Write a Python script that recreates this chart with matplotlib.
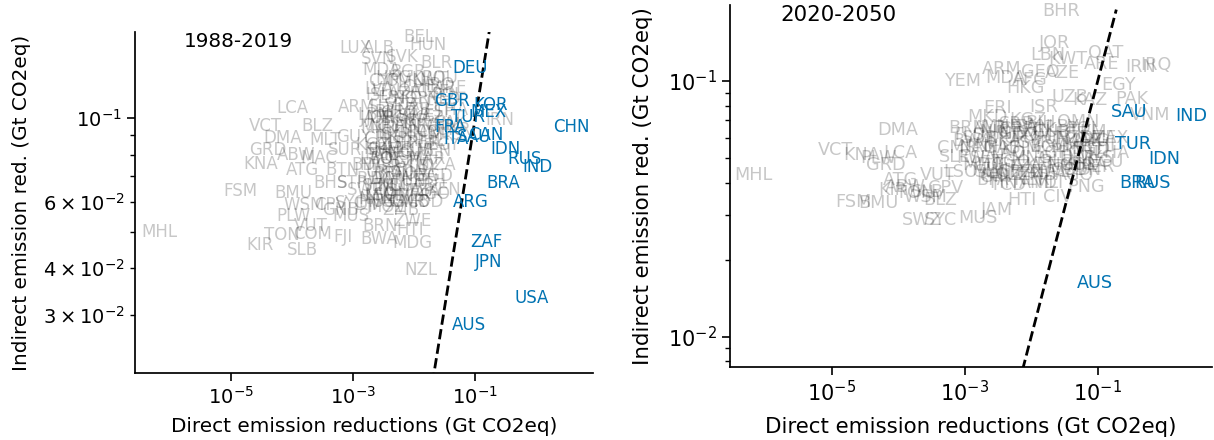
import matplotlib
matplotlib.use("Agg")
import matplotlib.pyplot as plt
from matplotlib.ticker import NullLocator

# ---- 1988-2019: highlighted countries (direct, indirect in Gt CO2eq)
hl_88_names = ["DEU", "GBR", "KOR", "MEX", "TUR", "FRA", "ITA", "SAU", "CAN", "IDN",
               "RUS", "IND", "CHN", "BRA", "ARG", "ZAF", "JPN", "USA", "AUS"]
hl_88_direct = [0.083, 0.042, 0.176, 0.163, 0.077, 0.039, 0.049, 0.096, 0.151, 0.31,
                0.64, 1.04, 3.75, 0.29, 0.086, 0.151, 0.163, 0.83, 0.080]
hl_88_indirect = [0.136, 0.111, 0.108, 0.104, 0.1006, 0.0947, 0.088, 0.089, 0.090, 0.083,
                  0.078, 0.074, 0.0947, 0.0673, 0.0598, 0.0469, 0.0415, 0.0333, 0.0282]

# ---- 1988-2019: other countries
oth_88_names = ["MHL", "KIR", "TON", "SLB", "FSM", "KNA", "BMU", "ATG", "BTN", "PLW",
                "WSM", "VUT", "COM", "FJI", "MUS", "BRN", "ZWE", "HTI", "BWA", "MDG",
                "NZL", "PNG", "GMB", "KEN", "LCA", "VCT", "BLZ", "DMA", "MLT", "GUY",
                "GRD", "ABW", "MAC", "SUR", "ERI", "LUX", "BEL", "HUN", "ALB", "SVK",
                "SVN", "MDA", "BGR", "BLR", "ROU", "LVA", "ARM", "JAM", "IRN", "BHS",
                "STP", "SWZ", "LSO", "CPV", "SYC", "DJI", "GNB", "BDI",
                "LTU", "EST", "SLV", "AZE", "GEO", "CHE", "NOR", "AUT", "CZE", "DNK",
                "SWE", "FIN", "IRL", "NLD", "PRT", "GRC", "ESP", "POL", "ISR", "CHL",
                "PER", "COL", "ECU", "BOL", "PRY", "URY", "VEN", "CRI", "PAN", "DOM",
                "GTM", "HND", "NIC", "CUB", "TTO", "MAR", "DZA", "TUN", "EGY", "NGA",
                "GHA", "CIV", "SEN", "CMR", "ETH", "TZA", "UGA", "AGO", "MOZ", "ZMB",
                "NAM", "BGD", "PAK", "LKA", "NPL", "THA", "VNM", "MYS", "PHL", "KAZ",
                "UKR", "UZB", "IRQ", "KWT", "QAT", "ARE", "OMN", "CYP", "ISL", "SGP",
                "HKG", "JOR", "LBN", "SRB", "BIH", "MKD", "KGZ", "TJK", "MNG", "KHM",
                "LAO", "MMR", "SYR", "YEM", "LBY", "TKM", "SDN", "COD", "NER", "MLI",
                "BFA", "MWI", "RWA", "GAB"]
oth_88_direct = [6.6e-7, 3.0e-5, 6.9e-5, 1.5e-4, 1.4e-5, 3.1e-5, 1.04e-4, 1.5e-4, 6.6e-4, 1.04e-4,
                 1.6e-4, 2.0e-4, 2.2e-4, 6.9e-4, 9.3e-4, 2.8e-3, 9.3e-3, 8.6e-3, 2.7e-3, 9.3e-3,
                 0.013, 2.4e-3, 8.6e-3, 0.031, 1.0e-4, 3.7e-5, 2.6e-4, 7.1e-5, 3.5e-4, 1.04e-3,
                 4.0e-5, 1.16e-4, 2.7e-4, 7.4e-4, 2.8e-3, 1.08e-3, 0.0121, 0.017, 2.6e-3, 6.4e-3,
                 2.6e-3, 2.9e-3, 8.0e-3, 0.023, 0.0267, 2.6e-3, 1.12e-3, 2.3e-3, 0.257, 4.2e-4,
                 9.6e-4, 1.6e-3, 2.8e-3, 4.2e-4, 8.9e-4, 1.6e-3, 6.1e-4, 1.6e-3,
                 0.0035, 0.0045, 0.0030, 0.007, 0.0055, 0.012, 0.009, 0.015, 0.02, 0.006,
                 0.011, 0.008, 0.004, 0.03, 0.009, 0.013, 0.025, 0.035, 0.006, 0.0045,
                 0.014, 0.02, 0.007, 0.0035, 0.005, 0.003, 0.022, 0.0025, 0.0028, 0.004,
                 0.009, 0.0033, 0.0022, 0.011, 0.006, 0.016, 0.025, 0.008, 0.03, 0.012,
                 0.0065, 0.005, 0.0026, 0.0075, 0.018, 0.014, 0.004, 0.02, 0.0035, 0.006,
                 0.0025, 0.022, 0.04, 0.005, 0.0032, 0.04, 0.028, 0.033, 0.018, 0.016,
                 0.045, 0.01, 0.027, 0.018, 0.01, 0.04, 0.007, 0.0032, 0.0025, 0.009,
                 0.0045, 0.0028, 0.0022, 0.006, 0.0038, 0.0027, 0.0021, 0.0035, 0.0045, 0.003,
                 0.0024, 0.012, 0.0052, 0.0065, 0.014, 0.0095, 0.0085, 0.015, 0.01, 0.0045,
                 0.0038, 0.003, 0.0023, 0.011]
oth_88_indirect = [0.0499, 0.046, 0.049, 0.0447, 0.064, 0.0755, 0.0633, 0.0728, 0.0728, 0.055,
                   0.0587, 0.0517, 0.0492, 0.0483, 0.055, 0.0518, 0.0533, 0.0505, 0.0478, 0.0466,
                   0.0395, 0.0598, 0.0598, 0.0644, 0.106, 0.0952, 0.0952, 0.0885, 0.0874, 0.089,
                   0.0822, 0.0798, 0.0783, 0.0822, 0.0822, 0.153, 0.164, 0.156, 0.153, 0.145,
                   0.143, 0.134, 0.132, 0.140, 0.128, 0.119, 0.107, 0.100, 0.099, 0.0673,
                   0.0673, 0.0644, 0.0625, 0.0587, 0.0596, 0.0587, 0.057, 0.075,
                   0.118, 0.113, 0.107, 0.116, 0.103, 0.121, 0.112, 0.108, 0.117, 0.097,
                   0.101, 0.094, 0.092, 0.112, 0.088, 0.095, 0.104, 0.115, 0.086, 0.085,
                   0.086, 0.092, 0.080, 0.078, 0.074, 0.072, 0.082, 0.088, 0.080, 0.069,
                   0.076, 0.066, 0.075, 0.082, 0.071, 0.078, 0.075, 0.068, 0.085, 0.070,
                   0.064, 0.063, 0.066, 0.060, 0.068, 0.064, 0.060, 0.063, 0.058, 0.057,
                   0.061, 0.070, 0.097, 0.100, 0.095, 0.105, 0.096, 0.090, 0.087, 0.100,
                   0.093, 0.105, 0.122, 0.127, 0.118, 0.120, 0.125, 0.125, 0.115, 0.098,
                   0.128, 0.100, 0.102, 0.108, 0.104, 0.094, 0.085, 0.089, 0.081, 0.083,
                   0.078, 0.091, 0.090, 0.078, 0.074, 0.083, 0.072, 0.060, 0.062, 0.066,
                   0.071, 0.062, 0.069, 0.066]

# ---- 2020-2050: highlighted countries
hl_50_names = ["SAU", "IND", "TUR", "IDN", "BRA", "RUS", "AUS"]
hl_50_direct = [0.295, 2.52, 0.339, 0.99, 0.389, 0.676, 0.091]
hl_50_indirect = [0.0756, 0.0729, 0.0567, 0.0496, 0.0399, 0.0399, 0.0162]

# ---- 2020-2050: other countries
oth_50_names = ["BHR", "JOR", "LBN", "KWT", "QAT", "ARE", "IRN", "IRQ", "ARM", "GEO",
                "AZE", "YEM", "MDA", "AFG", "HKG", "EGY", "UZB", "PAK", "KAZ", "VNM",
                "ISR", "ERI", "MKD", "BIH", "BRN", "ALB", "TLS", "CMR", "GAB", "SLE",
                "LSO", "SLV", "PNG", "FIN", "AND", "CIV", "JAM", "HTI", "MUS", "SWZ",
                "SYC", "FSM", "BMU", "MHL", "VCT", "KNA", "LCA", "GRD", "PLW", "DMA",
                "ATG", "VUT", "KIR", "ABW", "TON", "SLB", "CPV", "BLZ", "WSM",
                "SRB", "MNE", "KGZ", "TJK", "LBY", "OMN", "TKM", "DZA", "MAR", "TUN",
                "SYR", "LKA", "NPL", "BGD", "MMR", "KHM", "LAO", "PHL", "THA", "MYS",
                "SGP", "MNG", "UKR", "BLR", "NGA", "ETH", "KEN", "TZA", "UGA", "SEN",
                "GHA", "ZMB", "ZWE", "AGO", "MOZ", "SDN", "NER", "MLI", "BFA", "TCD",
                "COD", "ECU", "PER", "COL", "BOL", "PRY", "URY", "CHL", "MEX", "CUB",
                "DOM", "GTM", "HND", "NIC", "CRI", "PAN", "SUR", "NAM", "BWA", "MDG",
                "RWA", "MWI", "GIN", "BEN", "TGO", "NZL", "ARG", "POL", "ESP"]
oth_50_direct = [0.0281, 0.0221, 0.0180, 0.0358, 0.133, 0.116, 0.447, 0.75, 3.66e-3, 0.0136,
                 0.029, 9.2e-4, 4.06e-3, 9.6e-3, 8.1e-3, 0.202, 0.0384, 0.327, 0.077, 0.61,
                 0.0151, 3.1e-3, 2.2e-3, 0.0136, 1.09e-3, 2.4e-3, 1.13e-3, 7.7e-4, 3.66e-3, 7.2e-4,
                 8.6e-4, 2.4e-3, 0.0667, 3.8e-3, 0.0127, 0.0254, 3.1e-3, 7.3e-3, 1.6e-3, 2.3e-4,
                 4.3e-4, 2.1e-5, 5.0e-5, 6.7e-7, 1.13e-5, 2.8e-5, 1.07e-4, 6.6e-5, 5.0e-5, 9.7e-5,
                 1.07e-4, 3.9e-4, 8.4e-5, 1.27e-4, 1.8e-4, 2.8e-4, 5.1e-4, 4.3e-4, 2.6e-4,
                 0.006, 0.0035, 0.009, 0.015, 0.03, 0.05, 0.07, 0.1, 0.06, 0.02,
                 0.012, 0.004, 0.0025, 0.08, 0.04, 0.007, 0.0045, 0.12, 0.16, 0.09,
                 0.02, 0.01, 0.05, 0.025, 0.07, 0.03, 0.015, 0.008, 0.004, 0.0022,
                 0.006, 0.012, 0.02, 0.045, 0.0035, 0.06, 0.01, 0.018, 0.0026, 0.0045,
                 0.04, 0.13, 0.1, 0.05, 0.017, 0.035, 0.007, 0.065, 0.15, 0.02,
                 0.01, 0.0065, 0.0042, 0.0028, 0.0055, 0.011, 0.0017, 0.0016, 0.0013, 0.0019,
                 0.0015, 0.0024, 0.003, 0.0085, 0.005, 0.04, 0.08, 0.06, 0.04]
oth_50_indirect = [0.188, 0.141, 0.126, 0.122, 0.129, 0.116, 0.1135, 0.1156, 0.111, 0.108,
                   0.107, 0.100, 0.1027, 0.101, 0.094, 0.0965, 0.0866, 0.085, 0.0843, 0.0736,
                   0.0791, 0.0784, 0.0723, 0.0686, 0.0655, 0.0655, 0.0615, 0.0547, 0.0547, 0.0505,
                   0.044, 0.044, 0.0385, 0.0399, 0.0399, 0.0352, 0.0313, 0.0343, 0.0291, 0.0286,
                   0.0286, 0.0337, 0.0334, 0.0429, 0.0537, 0.0514, 0.0523, 0.0469, 0.050, 0.0643,
                   0.041, 0.0429, 0.0375, 0.0385, 0.0365, 0.0368, 0.0382, 0.0343, 0.0352,
                   0.068, 0.066, 0.070, 0.064, 0.066, 0.069, 0.063, 0.060, 0.058, 0.059,
                   0.057, 0.058, 0.056, 0.054, 0.055, 0.054, 0.052, 0.056, 0.052, 0.050,
                   0.052, 0.050, 0.050, 0.048, 0.047, 0.046, 0.047, 0.046, 0.047, 0.050,
                   0.044, 0.043, 0.044, 0.043, 0.043, 0.045, 0.041, 0.040, 0.041, 0.039,
                   0.045, 0.048, 0.046, 0.047, 0.055, 0.053, 0.060, 0.052, 0.060, 0.063,
                   0.061, 0.062, 0.062, 0.063, 0.065, 0.066, 0.060, 0.055, 0.058, 0.047,
                   0.050, 0.045, 0.042, 0.044, 0.048, 0.060, 0.058, 0.065, 0.062]

BLUE = "#0173b2"

fig = plt.figure(figsize=(12.14, 4.4), dpi=100)
ax1 = fig.add_axes([0.1112, 0.1523, 0.3773, 0.775])
ax2 = fig.add_axes([0.6013, 0.1659, 0.3970, 0.8227])


def draw_panel(ax, title, hl_n, hl_x, hl_y, ot_n, ot_x, ot_y, xlim, ylim, fs, lab_fs):
    ax.set_xscale("log")
    ax.set_yscale("log")
    for n, x, y in zip(ot_n, ot_x, ot_y):
        ax.text(x, y, n, color="k", alpha=0.22, fontsize=lab_fs, ha="center", va="center")
    for n, x, y in zip(hl_n, hl_x, hl_y):
        ax.text(x, y, n, color=BLUE, fontsize=lab_fs, ha="center", va="center")
    ax.plot([1e-3, 0.19], [1e-3, 0.19], "k--", lw=2)
    ax.set_xlim(*xlim)
    ax.set_ylim(*ylim)
    ax.set_xticks([1e-5, 1e-3, 1e-1])
    ax.xaxis.set_minor_locator(NullLocator())
    ax.spines["top"].set_visible(False)
    ax.spines["right"].set_visible(False)
    for s in ["left", "bottom"]:
        ax.spines[s].set_linewidth(1.25)
    ax.tick_params(which="major", length=6, width=1.2, labelsize=fs)
    ax.tick_params(which="minor", length=3.5, width=1.0, labelsize=fs)
    ax.text(0.225, 0.972, title, transform=ax.transAxes, fontsize=fs + 0.4,
            ha="center", va="center")
    ax.set_xlabel("Direct emission reductions (Gt CO2eq)", fontsize=fs + 0.4)
    ax.set_ylabel("Indirect emission red. (Gt CO2eq)", fontsize=fs + 0.4)


draw_panel(ax1, "1988-2019", hl_88_names, hl_88_direct, hl_88_indirect,
           oth_88_names, oth_88_direct, oth_88_indirect,
           (2.67e-7, 8.5), (0.0211, 0.169), 14, 12)
ax1.xaxis.set_label_coords(0.5, -0.128)
ax1.yaxis.set_label_coords(-0.228, 0.5)

draw_panel(ax2, "2020-2050", hl_50_names, hl_50_direct, hl_50_indirect,
           oth_50_names, oth_50_direct, oth_50_indirect,
           (2.97e-7, 5.2), (0.0076, 0.198), 15, 12.7)
ax2.xaxis.set_label_coords(0.5, -0.137)
ax2.yaxis.set_label_coords(-0.16, 0.5)

fig.savefig("out.png", dpi=100)
